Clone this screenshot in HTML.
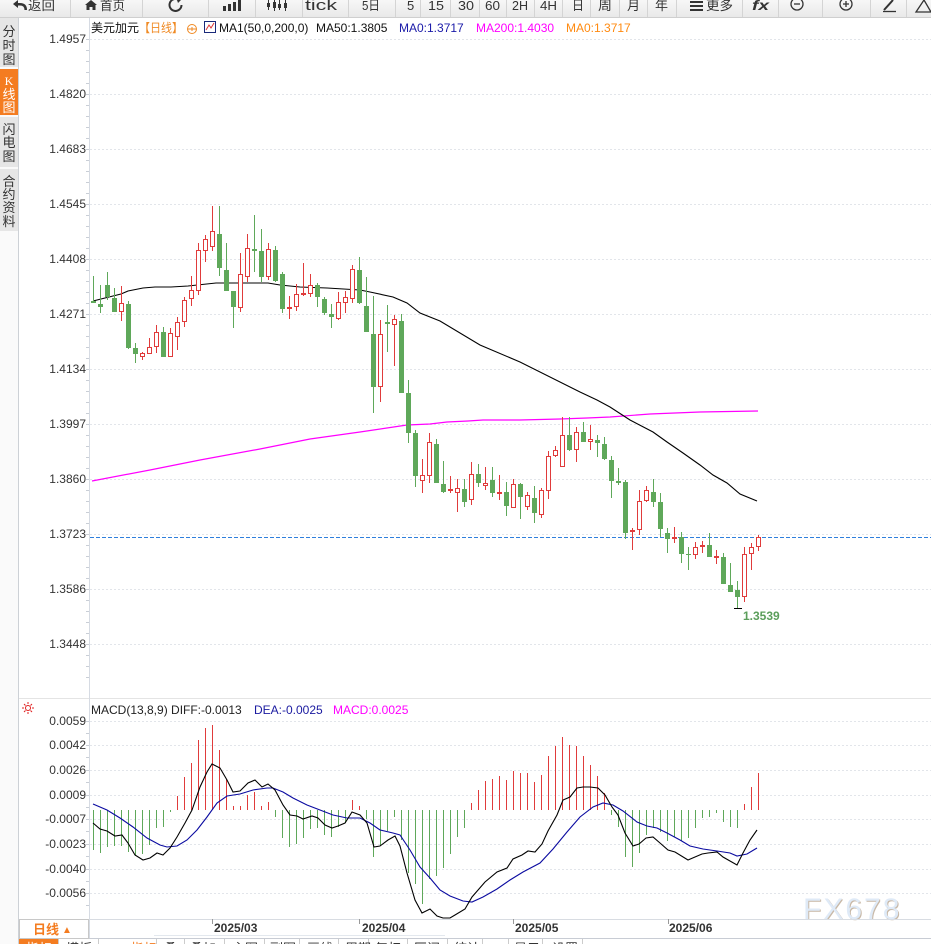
<!DOCTYPE html>
<html><head><meta charset="utf-8"><style>html,body{margin:0;padding:0;background:#fff;width:931px;height:944px;overflow:hidden}svg{display:block}</style></head><body>
<svg width="931" height="944" viewBox="0 0 931 944" xmlns="http://www.w3.org/2000/svg" font-family="'Liberation Sans','Noto Sans CJK SC',sans-serif">
<defs><linearGradient id="tb" x1="0" y1="0" x2="0" y2="1"><stop offset="0" stop-color="#f7f7f7"/><stop offset="1" stop-color="#e9e9e9"/></linearGradient></defs>
<rect x="0" y="0" width="931" height="17" fill="url(#tb)"/>
<line x1="0" y1="17.5" x2="931" y2="17.5" stroke="#cfcfcf"/>
<path d="M70.5 0V17M142.5 0V17M208.5 0V17M255.5 0V17M302.5 0V17M348.5 0V17M395.5 0V17M420.5 0V17M450.5 0V17M479.5 0V17M506.5 0V17M534.5 0V17M562.5 0V17M590.5 0V17M619.5 0V17M647.5 0V17M676.5 0V17M742.5 0V17M778.5 0V17M822.5 0V17M870.5 0V17M906.5 0V17" stroke="#d4d4d4"/>
<g fill="#333" font-size="13">
<path d="M27 10Q27 3 20 3L18 3L18 0L13 4L18 8L18 5.5L20 5.5Q24.5 5.5 24.5 10Z"/>
<text x="28" y="10" textLength="27" lengthAdjust="spacingAndGlyphs">返回</text>
<path d="M85 5L91 0L97 5L95.5 5L95.5 10L92.5 10L92.5 7L89.5 7L89.5 10L86.5 10L86.5 5Z"/>
<text x="100" y="10" textLength="25" lengthAdjust="spacingAndGlyphs">首页</text>
<path d="M181.5 5A6 6 0 1 1 178 -0.5" stroke="#333" stroke-width="2" fill="none"/>
<path d="M176 -3L182 -1L178 3Z"/>
<rect x="223" y="6" width="3" height="5"/><rect x="228" y="4" width="3" height="7"/><rect x="233" y="2" width="3" height="9"/><rect x="238" y="0" width="3" height="11"/>
<path d="M268.5 0V10M274.5 0V11M279.5 0V10M285.5 0V11" stroke="#333" stroke-width="1"/>
<rect x="267" y="3" width="3" height="4"/><rect x="273" y="2" width="3" height="6"/><rect x="278" y="4" width="3" height="4"/><rect x="284" y="3" width="3" height="5"/>
<text x="305" y="10" font-size="15" textLength="32" lengthAdjust="spacingAndGlyphs">tick</text>
<text x="362" y="10" textLength="18" lengthAdjust="spacingAndGlyphs">5日</text>
<text x="407" y="10">5</text>
<text x="428" y="10" textLength="16" lengthAdjust="spacingAndGlyphs">15</text>
<text x="458" y="10" textLength="16" lengthAdjust="spacingAndGlyphs">30</text>
<text x="485" y="10" textLength="15" lengthAdjust="spacingAndGlyphs">60</text>
<text x="512" y="10" textLength="16" lengthAdjust="spacingAndGlyphs">2H</text>
<text x="540" y="10" textLength="17" lengthAdjust="spacingAndGlyphs">4H</text>
<text x="572" y="10" textLength="12" lengthAdjust="spacingAndGlyphs">日</text>
<text x="598" y="10" textLength="14" lengthAdjust="spacingAndGlyphs">周</text>
<text x="627" y="10" textLength="13" lengthAdjust="spacingAndGlyphs">月</text>
<text x="655" y="10" textLength="13" lengthAdjust="spacingAndGlyphs">年</text>
<rect x="690" y="1" width="13" height="2"/><rect x="690" y="5" width="13" height="2"/><rect x="690" y="9" width="13" height="2"/>
<text x="706" y="10" textLength="27" lengthAdjust="spacingAndGlyphs">更多</text>
<text x="752" y="10" font-weight="bold" font-style="italic" font-size="14" textLength="17" lengthAdjust="spacingAndGlyphs">fx</text>
</g>
<g stroke="#333" stroke-width="1.3" fill="none">
<circle cx="797" cy="4" r="6"/><path d="M794 4H800"/>
<circle cx="846" cy="4" r="6"/><path d="M843 4H849M846 1V7"/>
<path d="M884 10L893 0" stroke-width="2"/><path d="M883 11.5H896"/>
<path d="M916 12L924 0L931 12Z"/>
</g>
<rect x="0" y="18" width="18" height="926" fill="#fafafa"/>
<rect x="0" y="18" width="18" height="49" fill="#e6e6e6"/>
<rect x="0" y="69" width="18" height="46" fill="#f47c20"/>
<rect x="0" y="117" width="18" height="50" fill="#e6e6e6"/>
<rect x="0" y="169" width="18" height="62" fill="#e6e6e6"/>
<line x1="18.5" y1="18" x2="18.5" y2="944" stroke="#cdd1d6"/>
<g font-size="13" text-anchor="middle" fill="#333">
<text x="9" y="36">分</text><text x="9" y="50">时</text><text x="9" y="64">图</text>
<text x="9" y="85" fill="#fff" font-family="'Liberation Serif',serif" font-size="12">K</text><text x="9" y="99" fill="#fff">线</text><text x="9" y="112" fill="#fff">图</text>
<text x="9" y="134">闪</text><text x="9" y="147">电</text><text x="9" y="161">图</text>
<text x="9" y="186">合</text><text x="9" y="199">约</text><text x="9" y="212">资</text><text x="9" y="226">料</text>
</g>
<!-- grid -->
<g stroke="#e2e5ea" stroke-dasharray="2 2">
<path d="M90 39.5H931M90 94.5H931M90 149.5H931M90 204.5H931M90 259.5H931M90 314.5H931M90 369.5H931M90 424.5H931M90 479.5H931M90 534.5H931M90 589.5H931M90 644.5H931"/>
<path d="M90 721.5H931M90 745.5H931M90 770.5H931M90 795.5H931M90 819.5H931M90 844.5H931M90 869.5H931M90 893.5H931"/>
</g>
<line x1="19" y1="698.5" x2="931" y2="698.5" stroke="#e4e4e4"/>
<line x1="89.5" y1="18" x2="89.5" y2="938" stroke="#d6dbe3"/>
<path d="M86 39.5h3M86 50.5h3M86 61.5h3M86 72.5h3M86 83.5h3M86 94.5h3M86 105.5h3M86 116.5h3M86 127.5h3M86 138.5h3M86 149.5h3M86 160.5h3M86 171.5h3M86 182.5h3M86 193.5h3M86 204.5h3M86 215.5h3M86 226.5h3M86 237.5h3M86 248.5h3M86 259.5h3M86 270.5h3M86 281.5h3M86 292.5h3M86 303.5h3M86 314.5h3M86 325.5h3M86 336.5h3M86 347.5h3M86 358.5h3M86 369.5h3M86 380.5h3M86 391.5h3M86 402.5h3M86 413.5h3M86 424.5h3M86 435.5h3M86 446.5h3M86 457.5h3M86 468.5h3M86 479.5h3M86 490.5h3M86 501.5h3M86 512.5h3M86 523.5h3M86 534.5h3M86 545.5h3M86 556.5h3M86 567.5h3M86 578.5h3M86 589.5h3M86 600.5h3M86 611.5h3M86 622.5h3M86 633.5h3M86 644.5h3M86 655.5h3M86 666.5h3M86 677.5h3M86 721.5h3M86 733.5h3M86 745.5h3M86 757.5h3M86 770.5h3M86 782.5h3M86 795.5h3M86 807.5h3M86 819.5h3M86 831.5h3M86 844.5h3M86 856.5h3M86 869.5h3M86 881.5h3M86 893.5h3M86 905.5h3" stroke="#c9ced6"/>
<g font-size="12" fill="#333" text-anchor="end">
<text x="86" y="43">1.4957</text><text x="86" y="98">1.4820</text><text x="86" y="153">1.4683</text><text x="86" y="208">1.4545</text><text x="86" y="263">1.4408</text><text x="86" y="318">1.4271</text><text x="86" y="373">1.4134</text><text x="86" y="428">1.3997</text><text x="86" y="483">1.3860</text><text x="86" y="538">1.3723</text><text x="86" y="593">1.3586</text><text x="86" y="648">1.3448</text>
<text x="86" y="725">0.0059</text><text x="86" y="749">0.0042</text><text x="86" y="774">0.0026</text><text x="86" y="799">0.0009</text><text x="86" y="823">-0.0007</text><text x="86" y="848">-0.0023</text><text x="86" y="873">-0.0040</text><text x="86" y="897">-0.0056</text>
</g>
<!-- title -->
<g font-size="12">
<text x="91" y="32" fill="#111">美元加元</text>
<text x="139" y="32" fill="#f08a24" textLength="44" lengthAdjust="spacingAndGlyphs">【日线】</text>
<circle cx="192" cy="29" r="4.5" fill="none" stroke="#f08a24"/><path d="M187.5 29H196.5M192 27V31" stroke="#f08a24"/>
<rect x="204.5" y="21.5" width="11" height="11" fill="#fff" stroke="#1a2a7a"/><path d="M206 30L209 25L211 28L214 23" stroke="#d33" fill="none"/>
<text x="219" y="32" fill="#111">MA1(50,0,200,0)</text>
<text x="316" y="32" fill="#111">MA50:1.3805</text>
<text x="399" y="32" fill="#1a1aa8">MA0:1.3717</text>
<text x="476" y="32" fill="#ff00ff">MA200:1.4030</text>
<text x="566" y="32" fill="#ff8a10">MA0:1.3717</text>
</g>
<!-- current price dashed -->
<line x1="90" y1="537.5" x2="931" y2="537.5" stroke="#2f7fdc" stroke-dasharray="4 2"/>
<!-- MA200 -->
<polyline fill="none" stroke="#ff00ff" stroke-width="1.2" points="92,481 150,470 200,460 260,449 310,439 360,432 407,425 430,424 447,422 468,421 483,420 520,420 560,419 587,418 610,417 650,414 700,412 758,411"/>
<!-- MA50 -->
<polyline fill="none" stroke="#000" stroke-width="1.1" points="93,301 121,294 128,291 143,288 155,287 171,287 188,286 216,283 268,283 280,285 300,287 327,288 360,290 370,292 393,297 407,303 420,313 440,321 480,345 520,362 560,382 580,392 597,400 610,407 630,420 653,432 667,442 683,453 700,465 713,475 727,483 740,494 757,501"/>
<!-- green candles -->
<path fill="#5fa85a" d="M93 276h1v27h-1zM91 301h5v2h-5zM100 285h1v28h-1zM98 304h5v3h-5zM107 272h1v28h-1zM105 285h5v12h-5zM114 288h1v24h-1zM112 298h5v14h-5zM128 301h1v48h-1zM126 304h5v44h-5zM135 343h1v20h-1zM133 348h5v6h-5zM163 327h1v30h-1zM161 332h5v25h-5zM219 206h1v70h-1zM217 234h5v34h-5zM226 243h1v48h-1zM224 270h5v21h-5zM233 291h1v37h-1zM231 291h5v16h-5zM254 215h1v57h-1zM252 249h5v2h-5zM261 229h1v53h-1zM259 251h5v26h-5zM275 246h1v36h-1zM273 250h5v31h-5zM282 272h1v41h-1zM280 274h5v35h-5zM317 283h1v24h-1zM315 285h5v12h-5zM324 297h1v18h-1zM322 299h5v14h-5zM331 304h1v24h-1zM329 314h5v3h-5zM359 257h1v47h-1zM357 270h5v33h-5zM366 277h1v55h-1zM364 306h5v26h-5zM373 296h1v117h-1zM371 334h5v53h-5zM387 305h1v47h-1zM385 322h5v2h-5zM401 314h1v79h-1zM399 321h5v72h-5zM408 380h1v63h-1zM406 393h5v40h-5zM415 430h1v57h-1zM413 433h5v43h-5zM436 439h1v44h-1zM434 444h5v39h-5zM443 461h1v32h-1zM441 484h5v8h-5zM464 479h1v28h-1zM462 489h5v13h-5zM478 464h1v23h-1zM476 474h5v9h-5zM492 467h1v30h-1zM490 480h5v13h-5zM506 482h1v34h-1zM504 492h5v14h-5zM520 483h1v36h-1zM518 484h5v13h-5zM534 486h1v37h-1zM532 498h5v15h-5zM569 417h1v34h-1zM567 435h5v15h-5zM583 422h1v20h-1zM581 432h5v10h-5zM597 435h1v22h-1zM595 440h5v3h-5zM604 437h1v23h-1zM602 444h5v15h-5zM611 456h1v42h-1zM609 460h5v21h-5zM618 468h1v17h-1zM616 481h5v2h-5zM625 480h1v59h-1zM623 482h5v51h-5zM653 479h1v28h-1zM651 492h5v10h-5zM660 493h1v44h-1zM658 502h5v27h-5zM667 528h1v25h-1zM665 533h5v6h-5zM681 532h1v31h-1zM679 537h5v17h-5zM688 547h1v23h-1zM686 554h5v1h-5zM709 533h1v24h-1zM707 545h5v12h-5zM723 553h1v31h-1zM721 557h5v27h-5zM730 563h1v29h-1zM728 585h5v7h-5zM737 581h1v27h-1zM735 590h5v7h-5z"/>
<!-- red candles -->
<path fill="#e03b3b" d="M121 286h1v35h-1zM142 352h1v8h-1zM149 338h1v16h-1zM156 325h1v28h-1zM170 328h1v29h-1zM177 317h1v33h-1zM184 297h1v30h-1zM191 276h1v30h-1zM198 243h1v52h-1zM205 235h1v27h-1zM212 206h1v45h-1zM240 253h1v59h-1zM247 234h1v48h-1zM268 243h1v37h-1zM289 296h1v23h-1zM296 284h1v27h-1zM303 263h1v33h-1zM310 274h1v23h-1zM338 292h1v28h-1zM345 291h1v22h-1zM352 265h1v38h-1zM380 320h1v82h-1zM394 315h1v51h-1zM422 459h1v34h-1zM429 433h1v50h-1zM450 476h1v17h-1zM457 479h1v33h-1zM471 462h1v43h-1zM485 467h1v23h-1zM499 475h1v25h-1zM513 479h1v29h-1zM527 492h1v18h-1zM541 488h1v30h-1zM548 451h1v48h-1zM555 446h1v11h-1zM562 417h1v50h-1zM576 427h1v35h-1zM590 425h1v25h-1zM632 528h1v22h-1zM639 490h1v45h-1zM646 486h1v16h-1zM674 527h1v16h-1zM695 542h1v17h-1zM702 541h1v12h-1zM716 550h1v14h-1zM744 547h1v55h-1zM751 543h1v27h-1zM758 535h1v16h-1zM287 307h5v2h-5zM301 293h5v2h-5zM448 489h5v2h-5zM497 492h5v2h-5zM630 530h5v2h-5zM672 537h5v2h-5zM700 545h5v2h-5zM714 556h5v2h-5z"/>
<path fill="#fff" stroke="#e03b3b" d="M119.5 303.5h4v8h-4zM140.5 353.5h4v3h-4zM147.5 347.5h4v6h-4zM154.5 332.5h4v14h-4zM168.5 333.5h4v23h-4zM175.5 322.5h4v14h-4zM182.5 300.5h4v21h-4zM189.5 290.5h4v8h-4zM196.5 250.5h4v40h-4zM203.5 239.5h4v11h-4zM210.5 231.5h4v15h-4zM238.5 274.5h4v33h-4zM245.5 248.5h4v28h-4zM266.5 249.5h4v27h-4zM294.5 294.5h4v12h-4zM308.5 285.5h4v8h-4zM336.5 302.5h4v16h-4zM343.5 297.5h4v5h-4zM350.5 269.5h4v29h-4zM378.5 334.5h4v52h-4zM392.5 319.5h4v5h-4zM420.5 475.5h4v5h-4zM427.5 442.5h4v33h-4zM455.5 488.5h4v4h-4zM469.5 474.5h4v25h-4zM483.5 483.5h4v2h-4zM511.5 484.5h4v23h-4zM525.5 495.5h4v11h-4zM539.5 490.5h4v24h-4zM546.5 456.5h4v34h-4zM553.5 450.5h4v5h-4zM560.5 435.5h4v31h-4zM574.5 432.5h4v17h-4zM588.5 439.5h4v2h-4zM637.5 501.5h4v28h-4zM644.5 490.5h4v10h-4zM693.5 547.5h4v7h-4zM742.5 554.5h4v42h-4zM749.5 547.5h4v6h-4zM756.5 537.5h4v9h-4z"/>
<!-- low marker -->
<line x1="734" y1="608.5" x2="742" y2="608.5" stroke="#000"/>
<text x="743" y="620" font-size="12" font-weight="bold" fill="#5b9e5b">1.3539</text>
<!-- MACD title -->
<g stroke="#e02020" fill="none"><circle cx="28" cy="708" r="2.5"/><path d="M28 702v2M28 712v2M22 708h2M32 708h2M24 704l1.5 1.5M32 704l-1.5 1.5M24 712l1.5-1.5M32 712l-1.5-1.5"/></g>
<g font-size="12">
<text x="91" y="714" fill="#222">MACD(13,8,9) DIFF:-0.0013</text>
<text x="254" y="714" fill="#1a1aa0">DEA:-0.0025</text>
<text x="333" y="714" fill="#ff00ff">MACD:0.0025</text>
</g>
<!-- MACD bars -->
<path stroke="#5fa85a" d="M93.5 810V850M100.5 810V853M107.5 810V847M114.5 810V846M121.5 810V846M128.5 810V852M135.5 810V856M142.5 810V854M149.5 810V845M156.5 810V828M163.5 810V827M170.5 810V812M275.5 810V817M282.5 810V838M289.5 810V847M296.5 810V844M303.5 810V838M310.5 810V829M317.5 810V828M324.5 810V835M331.5 810V837M338.5 810V827M345.5 810V823M366.5 810V819M373.5 810V857M380.5 810V845M387.5 810V831M394.5 810V817M401.5 810V840M408.5 810V873M415.5 810V884M422.5 810V904M429.5 810V879M436.5 810V876M443.5 810V868M450.5 810V854M457.5 810V837M464.5 810V828M611.5 810V815M618.5 810V827M625.5 810V857M632.5 810V867M639.5 810V853M646.5 810V835M653.5 810V828M660.5 810V832M667.5 810V841M674.5 810V837M681.5 810V841M688.5 810V838M695.5 810V828M702.5 810V818M709.5 810V817M716.5 810V813M723.5 810V822M730.5 810V827M737.5 810V828"/>
<path stroke="#e03b3b" d="M177.5 810V796M184.5 810V777M191.5 810V763M198.5 810V740M205.5 810V728M212.5 810V725M219.5 810V750M226.5 810V779M233.5 810V806M240.5 810V806M247.5 810V795M254.5 810V792M261.5 810V806M268.5 810V802M352.5 810V800M359.5 810V806M471.5 810V803M478.5 810V790M485.5 810V781M492.5 810V779M499.5 810V776M506.5 810V780M513.5 810V771M520.5 810V773M527.5 810V773M534.5 810V782M541.5 810V775M548.5 810V756M555.5 810V746M562.5 810V737M569.5 810V745M576.5 810V746M583.5 810V756M590.5 810V765M597.5 810V776M604.5 810V793M744.5 810V804M751.5 810V787M758.5 810V773"/>
<!-- DEA -->
<polyline fill="none" stroke="#0a0aa0" stroke-width="1.1" points="93,804 107,810 120,818 133,827 147,838 160,845 167,847 177,846 187,840 197,830 207,817 217,803 227,796 240,794 253,790 267,788 273,788 283,792 293,798 307,805 320,810 333,815 347,818 360,818 370,823 380,830 393,833 400,835 410,850 420,867 430,878 440,890 450,896 463,901 472,902 483,897 497,889 510,880 523,872 540,863 553,849 567,832 580,817 593,807 603,803 613,805 623,811 637,822 647,826 657,828 667,833 680,840 690,846 703,849 717,851 730,853 737,856 747,854 757,848"/>
<!-- DIFF -->
<polyline fill="none" stroke="#000" stroke-width="1.1" points="93,823 100,829 107,831 115,836 122,835 128,843 135,855 143,860 150,858 157,853 163,855 170,848 177,837 185,823 192,810 200,787 207,772 212,764 220,768 227,780 233,792 240,791 248,783 255,780 262,787 268,784 275,790 283,805 290,815 297,816 303,819 312,816 318,818 325,825 332,828 338,826 345,823 352,812 360,815 367,823 374,847 380,846 388,840 395,836 400,846 407,873 415,900 422,913 430,909 437,916 443,918 450,918 455,915 465,909 472,897 485,882 497,872 507,868 513,859 522,855 528,851 535,852 542,844 548,831 557,815 563,800 570,797 577,788 583,787 590,787 598,788 605,795 612,807 618,815 625,833 633,846 639,844 646,838 653,837 660,843 668,850 675,852 688,860 695,857 702,854 708,853 717,852 723,857 730,861 737,865 743,853 750,840 757,830"/>
<!-- watermark -->
<text x="804" y="920" font-size="30" letter-spacing="2" fill="#c8b8a6">FX678</text>
<text x="803" y="919" font-size="30" letter-spacing="2" fill="#dfeaf7">FX678</text>
<!-- x axis -->
<line x1="19" y1="919.5" x2="931" y2="919.5" stroke="#d8dce2"/>
<line x1="19" y1="938.5" x2="931" y2="938.5" stroke="#c8ccd4"/>
<path d="M212.5 919V924M359.5 919V924M513.5 919V924M668.5 919V924" stroke="#999"/>
<line x1="154" y1="935.5" x2="445" y2="935.5" stroke="#e3e8ee"/>
<g font-size="12" font-weight="bold" fill="#333">
<text x="214" y="932">2025/03</text><text x="362" y="932">2025/04</text><text x="515" y="932">2025/05</text><text x="669" y="932">2025/06</text>
</g>
<rect x="19.5" y="919.5" width="69" height="19" fill="#fff" stroke="#c8c8c8"/>
<text x="33" y="934" font-size="13" font-weight="bold" fill="#f47c20">日线</text>
<text x="62" y="933" font-size="10" fill="#f47c20">▲</text>
<!-- bottom tabs -->
<rect x="19" y="939" width="39" height="5" fill="#f47c20"/>
<path d="M58.5 939V944M98.5 939V944M156.5 939V944M184.5 939V944M224.5 939V944M264.5 939V944M299.5 939V944M338.5 939V944M368.5 939V944M407.5 939V944M447.5 939V944M482.5 939V944M508.5 939V944M542.5 939V944M582.5 939V944" stroke="#cccccc"/>
<g font-size="13">
<text x="26" y="953" fill="#fff">指标</text>
<text x="66" y="953" fill="#333">模板</text>
<text x="104" y="953" fill="#f47c20">ABC指标</text>
<text x="164" y="953" fill="#333">叠</text>
<text x="190" y="953" fill="#333">叠加</text>
<text x="232" y="953" fill="#333">主图</text>
<text x="270" y="953" fill="#333">副图</text>
<text x="307" y="953" fill="#333">画线</text>
<text x="345" y="953" fill="#333">周期</text>
<text x="375" y="953" fill="#333">复权</text>
<text x="414" y="953" fill="#333">区间</text>
<text x="454" y="953" fill="#333">统计</text>
<text x="488" y="953" fill="#333">F</text>
<text x="514" y="953" fill="#333">显示</text>
<text x="552" y="953" fill="#333">设置</text>
</g>
</svg>
</body></html>
